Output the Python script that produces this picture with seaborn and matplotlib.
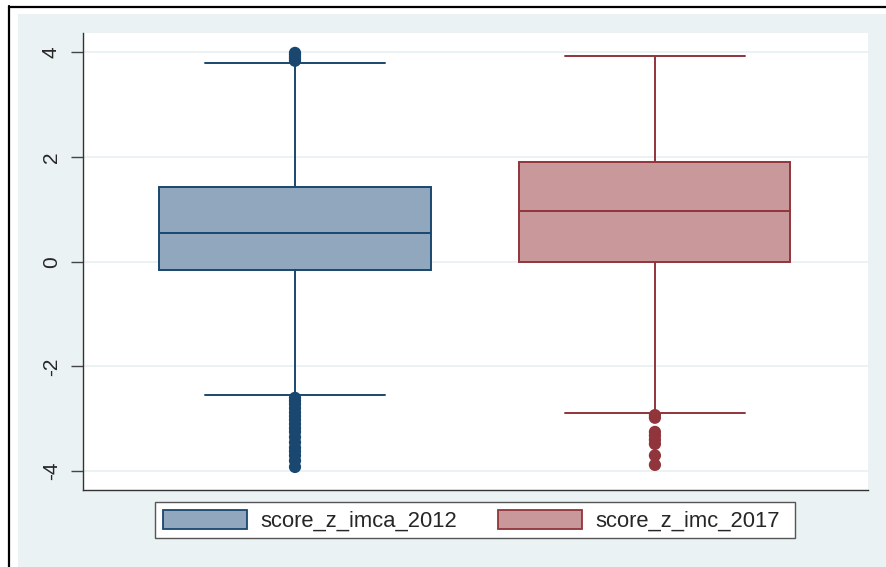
import matplotlib
matplotlib.use("Agg")
import matplotlib.pyplot as plt
from matplotlib.patches import Rectangle, Patch
from matplotlib.lines import Line2D
import pandas as pd
import seaborn as sns

# Summary statistics of the two standardised scores
series_names = ["score_z_imca_2012", "score_z_imc_2017"]
q1_values = [-0.15, 0.00]
median_values = [0.55, 0.97]
q3_values = [1.43, 1.91]
whisker_low = [-2.54, -2.88]
whisker_high = [3.80, 3.93]

# Outside values (beyond the whiskers)
outliers_2012 = [3.84, 3.88, 3.92, 3.96, 3.99,
                 -2.60, -2.66, -2.72, -2.80, -2.88, -2.95, -3.02, -3.10,
                 -3.18, -3.25, -3.35, -3.45, -3.55, -3.62, -3.70, -3.80, -3.92]
outliers_2017 = [-2.93, -2.98, -3.25, -3.32, -3.40, -3.48, -3.70, -3.88]

y_ticks = [-4, -2, 0, 2, 4]
y_tick_labels = ["-4", "-2", "0", "2", "4"]

edge_colors = ["#1a476f", "#90353b"]
fill_colors = ["#90a7bd", "#c8989b"]
bg_color = "#eaf2f3"

sns.set_style("white")
plt.rcParams["font.family"] = ["Liberation Sans", "DejaVu Sans"]

W, H = 887, 567
fig = plt.figure(figsize=(W / 100, H / 100), dpi=100, facecolor="white")

# Light graph region background and the outer frame
fig.patches.append(Rectangle((18 / W, 0), 1 - 18 / W, 1 - 14 / H,
                             transform=fig.transFigure, facecolor=bg_color,
                             edgecolor="none", zorder=-10))
fig.lines.append(Line2D([9.5 / W, 9.5 / W], [0, 1 - 6 / H],
                        transform=fig.transFigure, color="black", lw=1.6))
fig.lines.append(Line2D([9 / W, 1], [1 - 6.5 / H, 1 - 6.5 / H],
                        transform=fig.transFigure, color="black", lw=1.6))

# Legend frame
fig.patches.append(Rectangle((155 / W, (H - 538) / H), (795 - 155) / W, 36 / H,
                             transform=fig.transFigure, facecolor="white",
                             edgecolor="#555555", linewidth=1.0, zorder=-5))

ax = fig.add_axes([83 / W, (H - 490) / H, (868 - 83) / W, (490 - 33) / H])
ax.set_zorder(1)
ax.set_facecolor("white")

for i in range(2):
    stats = [{"med": median_values[i], "q1": q1_values[i], "q3": q3_values[i],
              "whislo": whisker_low[i], "whishi": whisker_high[i],
              "fliers": [], "label": series_names[i]}]
    ax.bxp(stats, positions=[i], widths=0.753, capwidths=0.5,
           showfliers=False, patch_artist=True,
           boxprops=dict(facecolor=fill_colors[i], edgecolor=edge_colors[i], linewidth=1.4),
           medianprops=dict(color=edge_colors[i], linewidth=1.4),
           whiskerprops=dict(color=edge_colors[i], linewidth=1.4),
           capprops=dict(color=edge_colors[i], linewidth=1.4),
           zorder=3)

outlier_df = pd.DataFrame({
    "series": [series_names[0]] * len(outliers_2012) + [series_names[1]] * len(outliers_2017),
    "value": outliers_2012 + outliers_2017,
})
sns.stripplot(data=outlier_df, x="series", y="value", hue="series",
              palette=dict(zip(series_names, edge_colors)), jitter=False,
              size=8.8, linewidth=0, legend=False, ax=ax, zorder=4)

ax.set_xlim(-0.589, 1.592)
ax.set_ylim(-4.36, 4.37)
ax.set_xticks([])
ax.set_xlabel("")
ax.set_ylabel("")
ax.set_yticks(y_ticks)
ax.set_yticklabels(y_tick_labels, rotation=90, va="center", fontsize=15)
ax.tick_params(axis="y", length=9, width=1, color="#444444", pad=7, left=True)
for y in y_ticks:
    ax.axhline(y, color=bg_color, lw=1.4, zorder=1)
for side in ["top", "right"]:
    ax.spines[side].set_visible(False)
for side in ["left", "bottom"]:
    ax.spines[side].set_color("#333333")
    ax.spines[side].set_linewidth(1.0)

handles = [Patch(facecolor=fill_colors[i], edgecolor=edge_colors[i], linewidth=1.3,
                 label=series_names[i]) for i in range(2)]
leg = fig.legend(handles=handles, loc="center left", ncol=2,
                 bbox_to_anchor=(163 / W, (H - 521) / H),
                 bbox_transform=fig.transFigure, fontsize=15.8,
                 handlelength=3.85, handleheight=0.92, handletextpad=0.6,
                 columnspacing=1.85, frameon=False, borderpad=0, borderaxespad=0)

fig.savefig("out.png", dpi=100, facecolor="white")
